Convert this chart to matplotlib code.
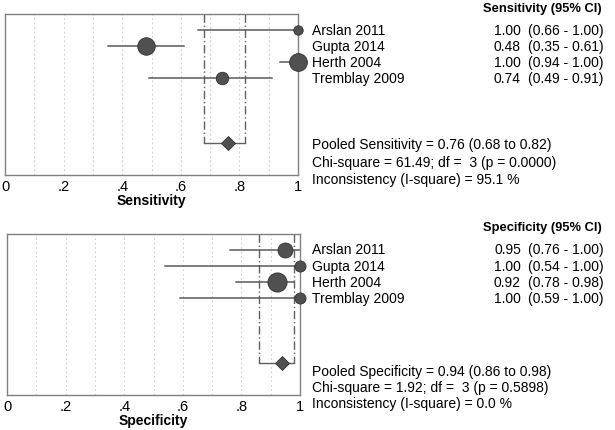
import matplotlib
matplotlib.use("Agg")
import matplotlib.pyplot as plt

plt.rcParams['font.family'] = ['Liberation Sans', 'DejaVu Sans']

# study data
studies = ['Arslan 2011', 'Gupta 2014', 'Herth 2004', 'Tremblay 2009']
sens = [1.00, 0.48, 1.00, 0.74]
sens_lo = [0.66, 0.35, 0.94, 0.49]
sens_hi = [1.00, 0.61, 1.00, 0.91]
sens_ms = [6.8, 12.6, 12.8, 9.0]      # marker size ~ study weight
spec = [0.95, 1.00, 0.92, 1.00]
spec_lo = [0.76, 0.54, 0.78, 0.59]
spec_hi = [1.00, 1.00, 0.98, 1.00]
spec_ms = [10.8, 8.0, 13.8, 8.0]

pooled_sens = (0.76, 0.68, 0.82)
pooled_spec = (0.94, 0.86, 0.98)
sens_stats = ['Pooled Sensitivity = 0.76 (0.68 to 0.82)',
              'Chi-square = 61.49; df =  3 (p = 0.0000)',
              'Inconsistency (I-square) = 95.1 %']
spec_stats = ['Pooled Specificity = 0.94 (0.86 to 0.98)',
              'Chi-square = 1.92; df =  3 (p = 0.5898)',
              'Inconsistency (I-square) = 0.0 %']
tick_vals = [0, 0.2, 0.4, 0.6, 0.8, 1.0]
tick_labels = ['0', '.2', '.4', '.6', '.8', '1']

W, H = 615, 431
fig = plt.figure(figsize=(W / 100, H / 100), dpi=100)
FS = 10

def px_text(x, y, s, **kw):
    fig.text(x / W, 1 - y / H, s, va='center', **kw)

def panel(left, top, est, lo, hi, ms, pooled, name, stats, hy, row_y, stat_y):
    ax = fig.add_axes([left / W, 1 - (top + 161) / H, 293 / W, 161 / H])
    ax.set_xlim(0, 1)
    ax.set_ylim(10, 0)
    for g in [0.1 * i for i in range(1, 10)]:
        ax.axvline(g, color='#d0d0d0', lw=0.8, ls=(0, (1.5, 2.5)), zorder=0)
    rows = range(1, len(est) + 1)
    for r, e, l, h, m in zip(rows, est, lo, hi, ms):
        ax.plot([l, h], [r, r], color='#5a5a5a', lw=1.1, zorder=2)
        ax.plot(e, r, 'o', ms=m, color='#505050', mec='#303030', mew=0.6,
                zorder=3, clip_on=False)
    pe, pl, ph = pooled
    for v in (pl, ph):
        ax.plot([v, v], [0, 8], color='#606060', lw=1.0, ls=(0, (6, 2, 1, 2)), zorder=1)
    ax.plot([pl, ph], [8, 8], color='#606060', lw=1.0, zorder=1)
    ax.plot(pe, 8, 'D', ms=7.5, color='#505050', mec='#303030', mew=0.6, zorder=3)
    ax.set_xticks(tick_vals)
    ax.set_xticklabels(tick_labels, fontsize=FS + 0.5)
    ax.tick_params(axis='x', length=0, pad=3)
    ax.set_yticks([])
    for s in ax.spines.values():
        s.set_color('#808080')
        s.set_linewidth(1.0)
    ax.set_xlabel(name, fontsize=FS, fontweight='bold', labelpad=0)
    px_text(602, hy, name + ' (95% CI)', ha='right', fontsize=9.3, fontweight='bold')
    for ry, st, e, l, h in zip(row_y, studies, est, lo, hi):
        px_text(312, ry, st, fontsize=FS)
        px_text(521, ry, '%.2f' % e, ha='right', fontsize=FS)
        px_text(528, ry, '(%.2f - %.2f)' % (l, h), fontsize=FS)
    for sy, s in zip(stat_y, stats):
        px_text(312, sy, s, fontsize=FS)

panel(5, 15, sens, sens_lo, sens_hi, sens_ms, pooled_sens, 'Sensitivity', sens_stats,
      9, [31, 47, 63, 79], [145, 163, 180])
panel(7, 235, spec, spec_lo, spec_hi, spec_ms, pooled_spec, 'Specificity', spec_stats,
      228, [250, 267, 283, 299], [372, 388, 404])

fig.savefig('out.png', dpi=100)
